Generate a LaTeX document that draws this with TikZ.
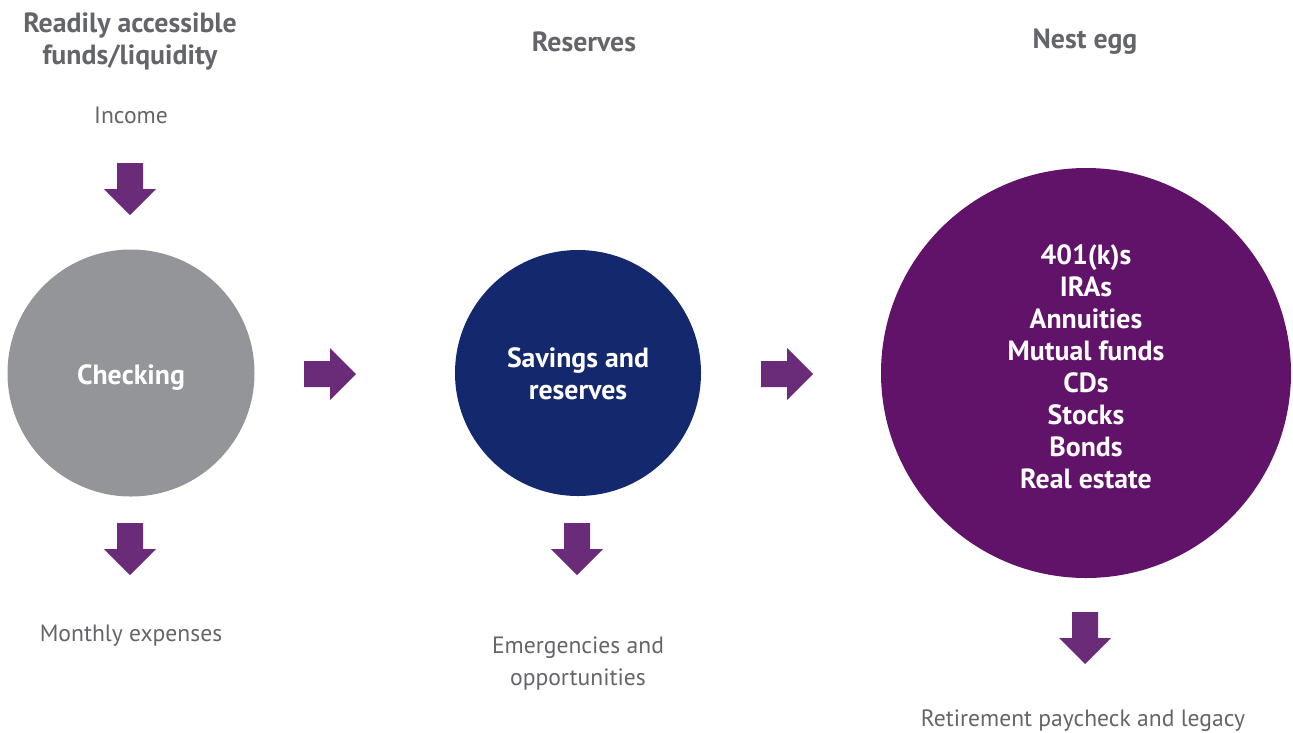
\documentclass[tikz,border=0pt]{standalone}
\usepackage{fontspec}
\setmainfont{PT Sans}
\definecolor{txtgray}{HTML}{646569}
\definecolor{chkgray}{HTML}{939598}
\definecolor{navy}{HTML}{14296D}
\definecolor{plum}{HTML}{611269}
\definecolor{arrowpurple}{HTML}{6A2B78}
\tikzset{
  head/.style={font=\fontsize{27.8}{32}\selectfont\bfseries, text=txtgray, align=center},
  label/.style={font=\fontsize{23.6}{32}\selectfont, text=txtgray, align=center},
  inner/.style={font=\fontsize{27.8}{32}\selectfont\bfseries, text=white, align=center},
  disc/.style={circle, inner sep=0pt},
  darrow/.pic={\fill[arrowpurple] (-13,-26) -- (13,-26) -- (13,0) -- (26,0) -- (0,26) -- (-26,0) -- (-13,0) -- cycle;},
  rarrow/.pic={\fill[arrowpurple] (-26,-13) -- (0,-13) -- (0,-26) -- (26,0) -- (0,26) -- (0,13) -- (-26,13) -- cycle;}
}
\begin{document}
\begin{tikzpicture}[x=1pt,y=-1pt]
\useasboundingbox (0,0) rectangle (1293,732);
% column headings
\node[head] (h1) at (130,41) {Readily accessible\\funds/liquidity};
\node[head] (h2) at (584,42) {Reserves};
\node[head] (h3) at (1085,42) {Nest egg};
% the three pools of money
\node[disc, fill=chkgray, minimum size=247pt] (chk) at (131,373) {};
\node[inner] (chkt) at (131,378) {Checking};
\node[disc, fill=navy, minimum size=246pt] (sav) at (578,373) {};
\node[inner] (savt) at (578,374) {Savings and\\reserves};
\node[disc, fill=plum, minimum size=410pt] (egg) at (1086,373) {};
\node[inner] (eggt) at (1086,367) {401(k)s\\IRAs\\Annuities\\Mutual funds\\CDs\\Stocks\\Bonds\\Real estate};
% flows in and out
\node[label] (inc) at (131,115) {Income};
\pic (a1) at (130,189) {darrow};
\pic (a2) at (130,549) {darrow};
\node[label] (mon) at (131,636) {Monthly expenses};
\pic (r1) at (330,374) {rarrow};
\pic (a3) at (577,549) {darrow};
\node[label] (emg) at (578,663) {Emergencies and\\opportunities};
\pic (r2) at (787,374) {rarrow};
\pic (a4) at (1085,638) {darrow};
\node[label] (ret) at (1083,721) {Retirement paycheck and legacy};
\end{tikzpicture}
\end{document}
